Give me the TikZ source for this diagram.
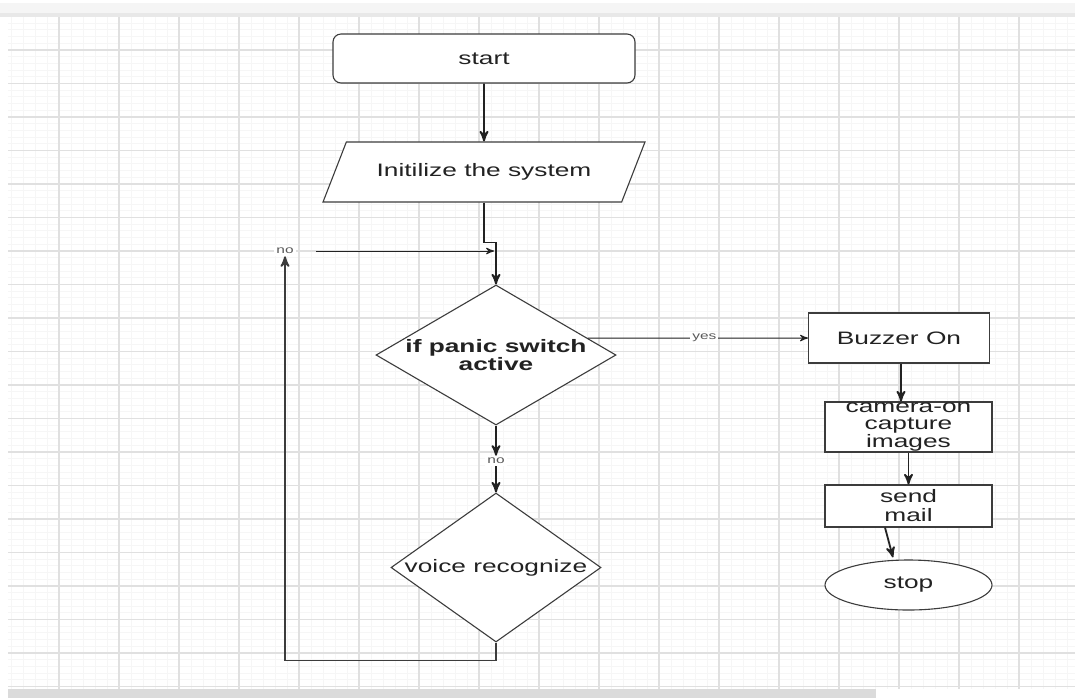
\documentclass[tikz,border=0pt]{standalone}
\usepackage{fontspec}
\setmainfont{Liberation Sans}[FakeStretch=1.46]
\usepackage{tikz}
\usetikzlibrary{shapes.geometric,calc,arrows}
\definecolor{gridmaj}{HTML}{E0E0E0}
\definecolor{gridmin}{HTML}{F6F6F6}
\definecolor{edge}{HTML}{3C3C3C}
\definecolor{ink}{HTML}{222222}

\begin{document}
\begin{tikzpicture}[x=0.5pt,y=-0.5pt,
  box/.style={draw=edge,line width=0.55pt,fill=white,text=ink,inner sep=0pt,align=center,font=\fontsize{9}{8.8}\selectfont},
  flow/.style={->,>=stealth',line width=0.9pt,color=ink},
  lbl/.style={font=\fontsize{5.3}{6}\selectfont,text=ink!75,fill=white,inner sep=1pt}]
\useasboundingbox (0,0) rectangle (1075,698);
\fill[white] (0,0) rectangle (1075,698);
\fill[black!4] (0,3) rectangle (1075,13);
\fill[black!9] (0,13) rectangle (1075,17);
\foreach \x in {11,23,...,1067} \draw[gridmin,line width=0.5pt] (\x,17) -- (\x,689);
\foreach \y in {23.2,29.9,...,689} \draw[gridmin,line width=0.5pt] (8,\y) -- (1075,\y);
\foreach \x in {59,119,...,1019} \draw[gridmaj,line width=0.6pt] (\x,17) -- (\x,689);
\foreach \y in {50,83.5,...,689} \draw[gridmaj,line width=0.6pt] (8,\y) -- (1075,\y);
\fill[black!14] (8,689) rectangle (876,698);

\node[box,rounded corners=4pt,minimum width=151pt,minimum height=24.5pt] (a) at (484,58.5) {start};
\node[box,trapezium,trapezium left angle=42.7,trapezium right angle=137.3,trapezium stretches=true,minimum width=161pt,minimum height=30pt] (b) at (484,172) {Initilize the system};
\node[box,diamond,aspect=1.71,minimum width=120pt,minimum height=70pt,font=\bfseries\fontsize{9}{11}\selectfont] (c) at (496,355) {\raisebox{-3pt}{if panic switch}\\active};
\node[box,diamond,aspect=1.41,minimum width=105pt,minimum height=74.5pt] (d) at (496,567.5) {voice recognize};
\node[box,minimum width=90.5pt,minimum height=25pt] (e) at (899,338) {Buzzer On};
\node[box,minimum width=83.5pt,minimum height=25pt] (f) at (908.5,427) {camera-on\\capture\\images};
\node[box,minimum width=83.5pt,minimum height=21pt,font=\fontsize{9}{9.5}\selectfont] (g) at (908.5,506) {send\\mail};
\node[box,ellipse,minimum width=83.5pt,minimum height=25pt] (h) at (908.5,585) {stop};
\node[lbl] (n1) at (285,251) {no};
\node[lbl] (n2) at (496,461) {no};

\path[flow] (a) edge (b)
(c) edge (n2)
(n2) edge (d)
([xshift=1pt]e.south) edge ([xshift=1pt]e.south |- f.north)
(f) edge (g)
([xshift=-11.75pt]g.south) edge ([xshift=-7.75pt,yshift=1pt]h.north)
;
\draw[flow] (b.south) -- ++(0,40) -| (c.north);
\path[flow,line width=0.5pt] ($(c.north)!0.76!(c.east)$) edge node[lbl,pos=0.53] {yes} (e);
\draw[flow,line width=0.5pt,shorten >=1pt] ([xshift=10pt]n1.east) -- (n1 -| c.north);
\draw[flow,color=edge] (d.south) -- ++(0,18) -| (n1.south);
\end{tikzpicture}
\end{document}
